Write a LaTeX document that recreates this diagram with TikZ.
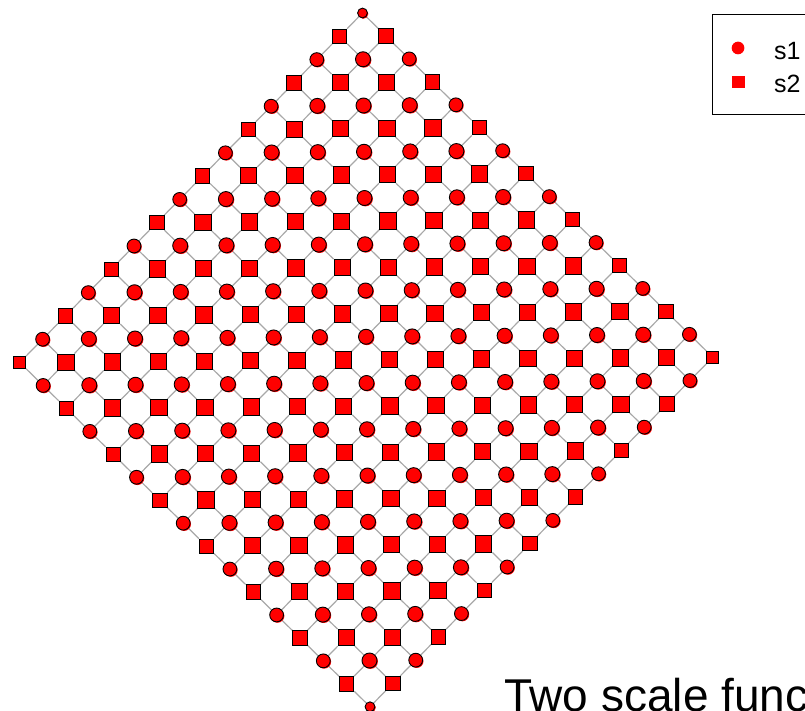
\documentclass[tikz,border=0pt]{standalone}
\usepackage{fontspec}
\setmainfont{Liberation Sans}
\usetikzlibrary{shadows,backgrounds}
\definecolor{kantengrau}{RGB}{168,168,168}

\begin{document}
\begin{tikzpicture}[x=1pt, y=-1pt,
		kreis/.style={circle, draw=black, fill=red, line width=0.9pt, inner sep=0pt, minimum size=#1,
			general shadow={fill=red, shadow xshift=0.9pt, shadow yshift=-0.9pt}},
		quadrat/.style={rectangle, draw=black, fill=red, line width=0.9pt, inner sep=0pt, minimum size=#1},
		kante/.style={draw=kantengrau, line width=1.2pt}]
	%Bildbereich
	\useasboundingbox (0,0) rectangle (805,711);
	\clip (0,0) rectangle (805,711);
	%Knoten setzen (gerade Summe: Kreis, ungerade: Quadrat)
	\foreach \i in {0,...,15}
		\foreach \j in {0,...,15}{
			\pgfmathtruncatemacro\summe{\i+\j}
			\pgfmathtruncatemacro\ecke{(\i==0)+(\i==15)+(\j==0)+(\j==15)}
			\ifodd\summe
				\ifcase\ecke \def\groesse{16.3pt}\or \def\groesse{14.3pt}\else \def\groesse{11.7pt}\fi
				\node[quadrat=\groesse] (n-\i-\j) at ({362.5+23.35*\i-22.85*\j},{13+22.95*\i+23.3*\j}) {};
			\else
				\ifcase\ecke \def\groesse{15pt}\or \def\groesse{13.8pt}\else \def\groesse{9.8pt}\fi
				\node[kreis=\groesse] (n-\i-\j) at ({362.5+23.35*\i-22.85*\j},{13+22.95*\i+23.3*\j}) {};
			\fi
		}
	%Kanten im Hintergrund
	\begin{scope}[on background layer]
		\foreach \i in {0,...,15}
			\foreach \j in {0,...,14}{
				\pgfmathtruncatemacro\jn{\j+1}
				\draw[kante] (n-\i-\j) -- (n-\i-\jn) (n-\j-\i) -- (n-\jn-\i);
			}
	\end{scope}
	%Legende
	\draw[line width=0.9pt] (712.7,14) rectangle (830,114);
	\node[circle, fill=red, inner sep=0pt, minimum size=12.7pt] (sym1) at (738,48) {};
	\node[fill=red, inner sep=0pt, minimum size=12.7pt] (sym2) at (738.3,82) {};
	\node[anchor=base west, inner sep=0pt, font=\fontsize{25}{30}\selectfont] (txt1) at (774,60) {s1};
	\node[anchor=base west, inner sep=0pt, font=\fontsize{25}{30}\selectfont] (txt2) at (774,93) {s2};
	%Titel
	\node[anchor=base west, inner sep=0pt, font=\fontsize{46}{55}\selectfont] (titel) at (504,711) {Two scale function};
\end{tikzpicture}
\end{document}
